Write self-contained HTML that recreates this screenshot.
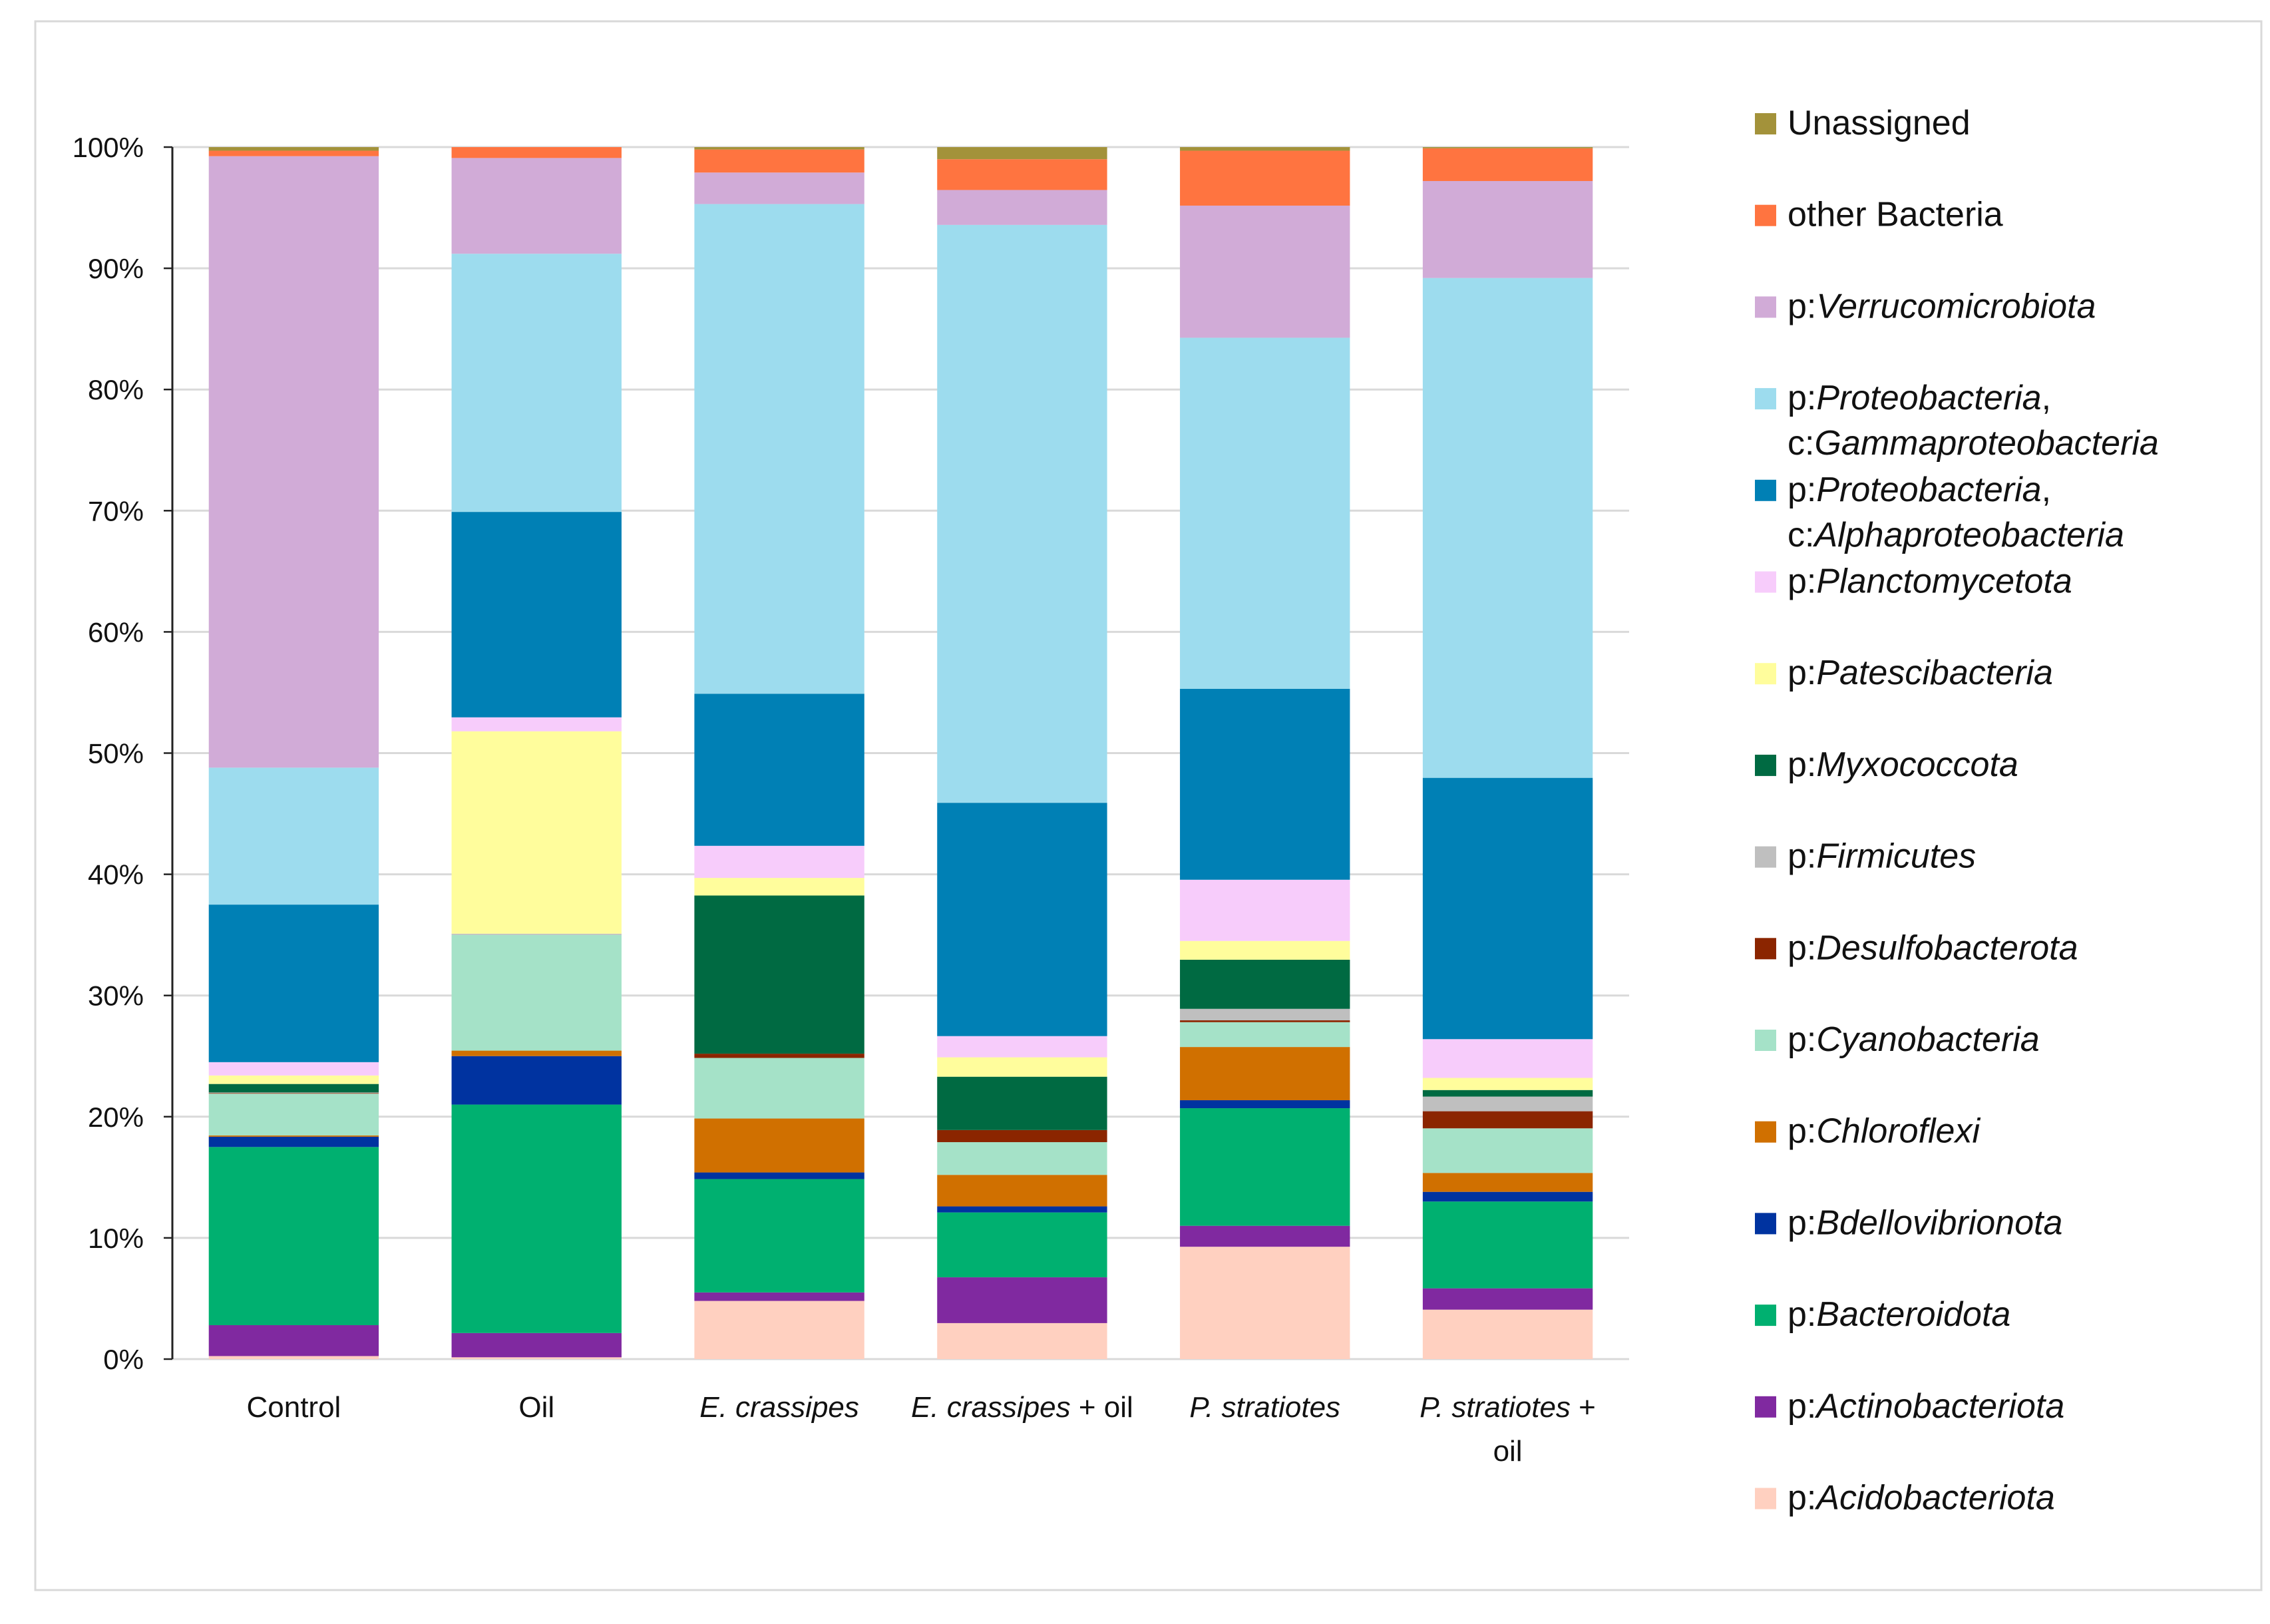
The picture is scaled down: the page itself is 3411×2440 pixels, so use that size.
<!DOCTYPE html>
<html><head><meta charset="utf-8"><style>
html,body{margin:0;padding:0;background:#fff;}
svg{display:block;font-family:"Liberation Sans",sans-serif;}
</style></head><body>
<svg id="chart" width="3411" height="2440" viewBox="0 0 3411 2440" xmlns="http://www.w3.org/2000/svg">
<rect x="53" y="32" width="3345" height="2357" fill="#fff" stroke="#d9d9d9" stroke-width="3"/>
<g id="grid"></g><g id="bars"></g><g id="axes"></g><g id="legend"></g>
</svg>
<script>
const categories = ["Control","Oil","E. crassipes","E. crassipes + oil","P. stratiotes","P. stratiotes + oil"];
const seriesNames = ["Acidobacteriota","Actinobacteriota","Bacteroidota","Bdellovibrionota","Chloroflexi","Cyanobacteria","Desulfobacterota","Firmicutes","Myxococcota","Patescibacteria","Planctomycetota","Alphaproteobacteria","Gammaproteobacteria","Verrucomicrobiota","other Bacteria","Unassigned"];
const acido   = [0.25, 0.15, 4.8, 2.97, 9.27, 4.08];
const actino  = [2.55, 2.0, 0.7, 3.78, 1.73, 1.76];
const bactero = [14.7, 18.85, 9.35, 5.35, 9.7, 7.16];
const bdello  = [0.85, 4.0, 0.55, 0.5, 0.66, 0.8];
const chloro  = [0.1, 0.45, 4.45, 2.6, 4.39, 1.56];
const cyano   = [3.45, 9.55, 5.0, 2.7, 2.05, 3.68];
const desulfo = [0.05, 0, 0.35, 1.0, 0.15, 1.41];
const firm    = [0.05, 0.1, 0, 0, 0.95, 1.21];
const myxo    = [0.7, 0, 13.05, 4.4, 4.05, 0.54];
const patesci = [0.7, 16.7, 1.45, 1.6, 1.55, 1.0];
const plancto = [1.1, 1.15, 2.65, 1.75, 5.05, 3.2];
const alpha   = [13.0, 16.95, 12.55, 19.25, 15.75, 21.56];
const gamma   = [11.3, 21.3, 40.4, 47.68, 28.97, 41.24];
const verruco = [50.45, 7.9, 2.6, 2.88, 10.9, 8.0];
const other   = [0.45, 0.9, 1.9, 2.54, 4.53, 2.7];
const unass   = [0.3, 0, 0.2, 1.0, 0.3, 0.1];
const yTicks = [0,10,20,30,40,50,60,70,80,90,100];
const yTickLabels = ["0%","10%","20%","30%","40%","50%","60%","70%","80%","90%","100%"];

const values = [acido,actino,bactero,bdello,chloro,cyano,desulfo,firm,myxo,patesci,plancto,alpha,gamma,verruco,other,unass];
const colors = ["#ffd0c0","#8029a0","#00b070","#0033a0","#d07000","#a5e2c8","#8b2500","#bfbfbf","#006a42","#fffd9c","#f7ccfb","#0080b5","#9ddcee","#d1abd7","#ff7440","#a3923a"];
const NS="http://www.w3.org/2000/svg";
const X0=259, X1=2448, Y0=2042, Y1=221;
const band=(X1-X0)/categories.length, barW=band*0.7;
function y(v){return Y0-(Y0-Y1)*v/100;}
function xc(i){return X0+band*(i+0.5);}
function mk(tag,attrs,parent){const e=document.createElementNS(NS,tag);for(const k in attrs)e.setAttribute(k,attrs[k]);parent.appendChild(e);return e;}
const grid=document.getElementById('grid'),bars=document.getElementById('bars'),axes=document.getElementById('axes'),legend=document.getElementById('legend');
yTicks.forEach((t,i)=>{
  const l=mk('line',{x1:X0,x2:X1,y1:y(t),y2:y(t),stroke:'#d9d9d9','stroke-width':3},grid);
  
  
  const tk=mk('line',{x1:X0-13,x2:X0,y1:y(t),y2:y(t),stroke:'#222','stroke-width':2.5},axes);
  
  
  const tx=mk('text',{x:216,y:y(t)+15,'text-anchor':'end','font-size':42,fill:'#111'},axes);
  tx.textContent=yTickLabels[i];
  
  
});
const ax=mk('line',{x1:X0,x2:X0,y1:Y1,y2:Y0,stroke:'#222','stroke-width':3},axes);


categories.forEach((c,i)=>{
  let acc=0;
  values.forEach((arr,s)=>{
    const v=arr[i]; if(v<=0)return;
    const r=mk('rect',{x:xc(i)-barW/2,y:y(acc+v),width:barW,height:y(acc)-y(acc+v),fill:colors[s]},bars);
    
    
    acc+=v;
  });
});
const catHtml=[['Control'],['Oil'],['<tspan font-style="italic">E. crassipes</tspan>'],['<tspan font-style="italic">E. crassipes</tspan> + oil'],['<tspan font-style="italic">P. stratiotes</tspan>'],['<tspan font-style="italic">P. stratiotes</tspan> +','oil']];
catHtml.forEach((lines,i)=>{
  lines.forEach((ln,j)=>{
    const t=mk('text',{x:xc(i),y:2129+j*66,'text-anchor':'middle','font-size':44,fill:'#111'},axes);
    t.innerHTML=ln;
    
    
  });
});
const legItems=[
 ['Unassigned',null,15],['other Bacteria',null,14],['p:<tspan font-style="italic">Verrucomicrobiota</tspan>',null,13],
 ['p:<tspan font-style="italic">Proteobacteria</tspan>,','c:<tspan font-style="italic">Gammaproteobacteria</tspan>',12],
 ['p:<tspan font-style="italic">Proteobacteria</tspan>,','c:<tspan font-style="italic">Alphaproteobacteria</tspan>',11],
 ['p:<tspan font-style="italic">Planctomycetota</tspan>',null,10],['p:<tspan font-style="italic">Patescibacteria</tspan>',null,9],
 ['p:<tspan font-style="italic">Myxococcota</tspan>',null,8],['p:<tspan font-style="italic">Firmicutes</tspan>',null,7],
 ['p:<tspan font-style="italic">Desulfobacterota</tspan>',null,6],['p:<tspan font-style="italic">Cyanobacteria</tspan>',null,5],
 ['p:<tspan font-style="italic">Chloroflexi</tspan>',null,4],['p:<tspan font-style="italic">Bdellovibrionota</tspan>',null,3],
 ['p:<tspan font-style="italic">Bacteroidota</tspan>',null,2],['p:<tspan font-style="italic">Actinobacteriota</tspan>',null,1],
 ['p:<tspan font-style="italic">Acidobacteriota</tspan>',null,0]];
legItems.forEach((it,k)=>{
  const cy=186+k*137.7;
  const g=mk('g',{},legend);
  
  
  mk('rect',{x:2637,y:cy-16,width:32,height:32,fill:colors[it[2]]},g);
  const t=mk('text',{x:2686,y:cy+16,'font-size':52,fill:'#111'},g);
  t.innerHTML=it[0];
  if(it[1]){const t2=mk('text',{x:2686,y:cy+84,'font-size':52,fill:'#111'},g);t2.innerHTML=it[1];}
});
</script>
</body></html>
